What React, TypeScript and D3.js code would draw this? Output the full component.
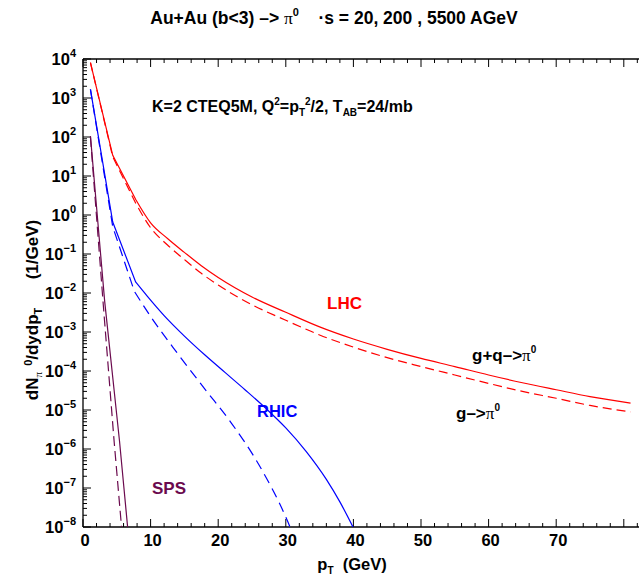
import React, { useEffect, useRef } from 'react';
import * as d3 from 'd3';

// frame of the plot
const W = 639;
const H = 575;
const left = 83;
const top = 59;
const bottom = 527;
const pxPerGeV = 6.76;

// LHC (5500 AGeV), g+q -> pi0 (solid) and g -> pi0 (dashed)
const lhcPt = [1.1, 4.4, 7.8, 10, 12.5, 15, 17.5, 20, 25, 30, 35, 40, 45, 50, 55, 60, 65, 70, 75, 81];
const lhcAll = [8100, 34, 2.5, 0.63, 0.25, 0.11, 0.05, 0.025, 0.0079, 0.0032, 0.00135, 0.00066, 0.00036, 0.00021, 0.00013, 0.000079, 0.00005, 0.000033, 0.000022, 0.000015];
const lhcGluon = [8100, 31, 2.0, 0.47, 0.17, 0.072, 0.032, 0.016, 0.005, 0.002, 0.00084, 0.00041, 0.00022, 0.00013, 0.000079, 0.000048, 0.00003, 0.00002, 0.0000131, 0.0000089];

// RHIC (200 AGeV)
const rhicPt = [1.1, 4.4, 7.8, 9.5, 12, 15, 18, 21, 24, 27, 30, 33, 36, 38, 40, 41];
const rhicAll = [1660, 0.66, 0.019, 0.0083, 0.00263, 0.000785, 0.00026, 0.000092, 0.0000327, 0.0000112, 0.00000347, 0.00000087, 0.000000166, 0.000000044, 0.0000000095, 0.0000000042];
const rhicGluonPt = [1.1, 4.4, 7.6, 10, 14, 18, 22, 26, 30, 31];
const rhicGluon = [1660, 0.5, 0.011, 0.0025, 0.00028, 0.000035, 0.0000045, 0.0000004, 0.000000018, 0.000000007];

// SPS (20 AGeV)
const spsPt = [1.1, 3.2, 5.4, 6.6];
const spsAll = [105, 0.0063, 0.0000016, 0.00000001];
const spsGluonPt = [1.1, 3.0, 4.6, 5.7];
const spsGluon = [100, 0.005, 0.0000016, 0.00000001];

const yExponents = [4, 3, 2, 1, 0, -1, -2, -3, -4, -5, -6, -7, -8];
const xTickValues = [0, 10, 20, 30, 40, 50, 60, 70];

const RED = '#ff0000';
const BLUE = '#0000ff';
const PURPLE = '#6b0a4e';
const FONT = '"Liberation Sans", Arial, sans-serif';

function App() {
    const chartElement = useRef(null);

    useEffect(() => {
        const svg = d3.select(chartElement.current).html('');
        const xMax = (W - left) / pxPerGeV;
        const x = d3.scaleLinear().domain([0, xMax]).range([left, W]);
        const y = d3.scaleLog().domain([1e-8, 1e4]).range([bottom, top]);

        svg.append('defs').append('clipPath').attr('id', 'plotclip')
            .append('rect').attr('x', left).attr('y', top).attr('width', W - left).attr('height', bottom - top);

        const g = svg.append('g').attr('font-family', FONT).attr('font-weight', 'bold');

        // frame (no right edge, it falls off the page)
        g.append('line').attr('x1', left).attr('x2', W).attr('y1', top).attr('y2', top).attr('stroke', '#000').attr('stroke-width', 1.3);
        g.append('line').attr('x1', left).attr('x2', W).attr('y1', bottom).attr('y2', bottom).attr('stroke', '#000').attr('stroke-width', 1.3);
        g.append('line').attr('x1', left).attr('x2', left).attr('y1', top).attr('y2', bottom).attr('stroke', '#000').attr('stroke-width', 1.3);

        // x ticks, bottom and top, pointing inward
        const xMinor = d3.range(0, xMax, 2);
        xMinor.forEach((v) => {
            const major = v % 10 === 0;
            const len = major ? 8 : 4;
            g.append('line').attr('x1', x(v)).attr('x2', x(v)).attr('y1', bottom).attr('y2', bottom - len).attr('stroke', '#000');
            g.append('line').attr('x1', x(v)).attr('x2', x(v)).attr('y1', top).attr('y2', top + len).attr('stroke', '#000');
        });
        g.selectAll('.xlab').data(xTickValues).enter().append('text')
            .attr('x', (d) => x(d) + 2).attr('y', 546).attr('text-anchor', 'middle').attr('font-size', 16.5)
            .text((d) => d);

        // y ticks (log), pointing inward
        yExponents.forEach((e) => {
            g.append('line').attr('x1', left).attr('x2', left + 8).attr('y1', y(10 ** e)).attr('y2', y(10 ** e)).attr('stroke', '#000');
            if (e < 4) {
                d3.range(2, 10).forEach((m) => {
                    const yy = y(m * 10 ** e);
                    g.append('line').attr('x1', left).attr('x2', left + 4).attr('y1', yy).attr('y2', yy).attr('stroke', '#000');
                });
            }
            const t = g.append('text').attr('x', 76).attr('y', y(10 ** e) + 6).attr('text-anchor', 'end').attr('font-size', 16.5);
            t.append('tspan').text('10');
            t.append('tspan').attr('dy', -8).attr('font-size', 11).text(e < 0 ? '\u2212' + -e : e);
        });

        // curves: straight segments up to the knee, smooth afterwards
        const straight = d3.line().x((d) => x(d[0])).y((d) => y(d[1]));
        const smooth = d3.line().x((d) => x(d[0])).y((d) => y(d[1])).curve(d3.curveMonotoneX);
        const curves = [
            { pt: lhcPt, v: lhcAll, knee: 2, color: RED, dash: null },
            { pt: lhcPt, v: lhcGluon, knee: 2, color: RED, dash: '9,5' },
            { pt: rhicPt, v: rhicAll, knee: 2, color: BLUE, dash: null },
            { pt: rhicGluonPt, v: rhicGluon, knee: 2, color: BLUE, dash: '10,6' },
            { pt: spsPt, v: spsAll, knee: 3, color: PURPLE, dash: null },
            { pt: spsGluonPt, v: spsGluon, knee: 3, color: PURPLE, dash: '10,5' },
        ];
        const cg = svg.append('g').attr('clip-path', 'url(#plotclip)');
        curves.forEach((c) => {
            const pts = c.pt.map((p, i) => [p, c.v[i]]);
            let d = straight(pts.slice(0, c.knee + 1));
            if (c.knee < pts.length - 1) {
                d += smooth(pts.slice(c.knee)).replace(/^M[^C]*/, '');
            }
            cg.append('path')
                .attr('d', d)
                .attr('fill', 'none').attr('stroke', c.color).attr('stroke-width', 1.2)
                .attr('stroke-dasharray', c.dash);
        });

        // title
        const title = g.append('text').attr('x', 334).attr('y', 24).attr('text-anchor', 'middle').attr('font-size', 17.5);
        title.append('tspan').text('Au+Au (b<3) \u2013> ');
        title.append('tspan').attr('font-weight', 'normal').attr('font-family', 'serif').text('\u03c0');
        title.append('tspan').attr('dy', -8).attr('font-size', 11).text('0');
        title.append('tspan').attr('dy', 8).attr('xml:space', 'preserve').text('    \u00b7s = 20, 200 , 5500 AGeV');

        // parameters
        const par = g.append('text').attr('x', 152).attr('y', 112).attr('font-size', 16);
        par.append('tspan').text('K=2 CTEQ5M,  Q');
        par.append('tspan').attr('dy', -7).attr('font-size', 10).text('2');
        par.append('tspan').attr('dy', 7).text('=p');
        par.append('tspan').attr('dy', 4).attr('font-size', 10).text('T');
        par.append('tspan').attr('dy', -11).attr('font-size', 10).text('2');
        par.append('tspan').attr('dy', 7).text('/2, T');
        par.append('tspan').attr('dy', 4).attr('font-size', 10).text('AB');
        par.append('tspan').attr('dy', -4).text('=24/mb');

        // curve labels
        g.append('text').attr('x', 327).attr('y', 309).attr('font-size', 17).attr('fill', RED).text('LHC');
        g.append('text').attr('x', 257).attr('y', 417).attr('font-size', 16.5).attr('fill', BLUE).text('RHIC');
        g.append('text').attr('x', 152).attr('y', 494).attr('font-size', 17).attr('fill', PURPLE).text('SPS');

        const gq = g.append('text').attr('x', 472).attr('y', 361).attr('font-size', 17);
        gq.append('tspan').text('g+q\u2013>');
        gq.append('tspan').attr('font-weight', 'normal').attr('font-family', 'serif').text('\u03c0');
        gq.append('tspan').attr('dy', -8).attr('font-size', 10).text('0');

        const gg = g.append('text').attr('x', 456).attr('y', 419).attr('font-size', 17);
        gg.append('tspan').text('g\u2013>');
        gg.append('tspan').attr('font-weight', 'normal').attr('font-family', 'serif').text('\u03c0');
        gg.append('tspan').attr('dy', -8).attr('font-size', 10).text('0');

        // axis titles
        const xt = g.append('text').attr('x', 352).attr('y', 570).attr('text-anchor', 'middle').attr('font-size', 16.5);
        xt.append('tspan').text('p');
        xt.append('tspan').attr('dy', 4).attr('font-size', 10).text('T');
        xt.append('tspan').attr('dy', -4).attr('xml:space', 'preserve').text('  (GeV)');

        const yt = g.append('text').attr('transform', 'translate(38,310) rotate(-90)').attr('text-anchor', 'middle')
            .attr('font-size', 17).attr('xml:space', 'preserve');
        yt.append('tspan').text('dN');
        yt.append('tspan').attr('dy', 4).attr('font-size', 11).attr('font-weight', 'normal').attr('font-family', 'serif').text('\u03c0');
        yt.append('tspan').attr('dy', -10).attr('font-size', 11).text('  0');
        yt.append('tspan').attr('dy', 6).text('/dydp');
        yt.append('tspan').attr('dy', 4).attr('font-size', 11).text('T');
        yt.append('tspan').attr('dy', -4).text('      (1/GeV)');
    }, []);

    return (
        <div style={{ position: 'absolute', left: 0, top: 0, width: W, height: H }}>
            <svg ref={chartElement} width={W} height={H} style={{ display: 'block' }}></svg>
        </div>
    );
}

export default App;
